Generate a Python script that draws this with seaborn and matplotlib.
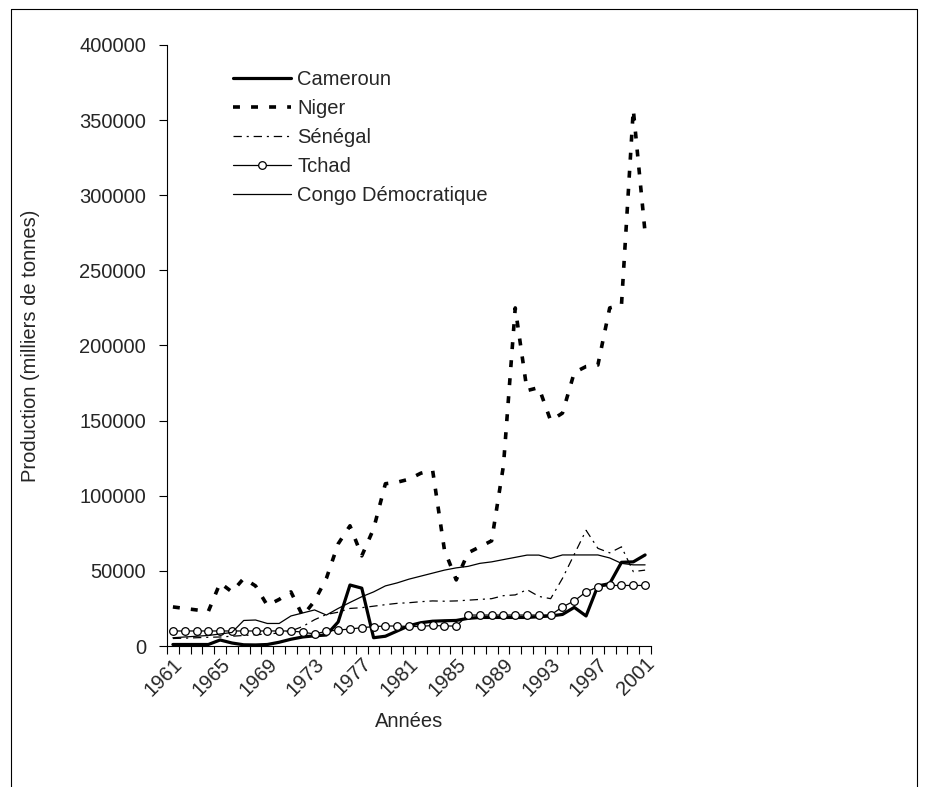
import numpy as np
import pandas as pd
import matplotlib.pyplot as plt
import seaborn as sns
from matplotlib.lines import Line2D

# années 1961 -> 2001
annees = list(range(1961, 2002))

cameroun = [1000, 1000, 1000, 1000, 4000, 2000, 800, 700, 1000, 2500,
            4500, 6000, 6800, 7300, 16000, 40600, 38500, 5500, 6500, 10000,
            13500, 15500, 16500, 16800, 17000, 18400, 19000, 19000, 19000, 19000,
            19000, 19500, 20000, 21000, 25700, 20000, 40000, 41500, 55700, 56000,
            60600]
niger = [26000, 25000, 24000, 23000, 42000, 36000, 45000, 40000, 27000, 31000,
         36000, 20000, 30000, 45000, 68000, 80000, 60000, 78000, 108000, 109000,
         111000, 115000, 117000, 64000, 44000, 62000, 66000, 70000, 120000, 225000,
         170000, 172000, 150000, 155000, 182000, 186000, 187000, 225000, 227000, 357000,
         275000]
senegal = [5000, 5200, 5500, 5800, 6000, 6500, 7000, 7500, 8000, 8600,
           10000, 13000, 17500, 21000, 22500, 25000, 25500, 26500, 27500, 28400,
           28800, 29500, 30000, 29800, 30000, 30500, 31000, 31500, 33500, 34000,
           37500, 33000, 31500, 45000, 61000, 77000, 65000, 62000, 66000, 49500,
           50500]
tchad = [10000, 10000, 10000, 10000, 10000, 10000, 10000, 10000, 10000, 10000,
         10000, 9200, 8000, 9800, 10600, 11300, 12200, 12900, 13300, 13300,
         13000, 13000, 13700, 13300, 13300, 20600, 20600, 20600, 20600, 20600,
         20600, 20600, 20600, 26000, 30000, 36000, 39300, 40300, 40300, 40300,
         40300]
congo = [5500, 6000, 6500, 7000, 8000, 9000, 17000, 17300, 15000, 15000,
         20000, 22000, 24000, 20600, 25000, 29000, 32800, 36000, 40000, 42000,
         44500, 46500, 48500, 50500, 52000, 53000, 55000, 56000, 57500, 59000,
         60500, 60500, 58300, 60600, 60600, 60600, 60600, 58600, 55000, 54000,
         54000]

labels_annees = [str(a) for a in range(1961, 2002, 4)]

sns.set_style("white")
plt.rcParams["font.family"] = ["Liberation Sans", "DejaVu Sans"]
plt.rcParams["lines.scale_dashes"] = False

df = pd.DataFrame({"Année": annees, "Cameroun": cameroun, "Niger": niger,
                   "Sénégal": senegal, "Tchad": tchad,
                   "Congo Démocratique": congo})

fig = plt.figure(figsize=(9.25, 7.87), dpi=100)
ax = fig.add_axes([167 / 925, 1 - 646 / 787, 484 / 925, 601 / 787])

sns.lineplot(data=df, x="Année", y="Cameroun", ax=ax, color="black",
             linewidth=2.3, label="Cameroun", errorbar=None)
sns.lineplot(data=df, x="Année", y="Niger", ax=ax, color="black",
             linewidth=2.6, linestyle=(0, (5, 8)), label="Niger", errorbar=None)
sns.lineplot(data=df, x="Année", y="Sénégal", ax=ax, color="black",
             linewidth=0.9, linestyle=(0, (6, 3.5, 1.5, 3.5)), label="Sénégal",
             errorbar=None)
sns.lineplot(data=df, x="Année", y="Tchad", ax=ax, color="black",
             linewidth=0.9, marker="o", markersize=5.5, markerfacecolor="white",
             markeredgecolor="black", markeredgewidth=0.9, label="Tchad",
             errorbar=None)
sns.lineplot(data=df, x="Année", y="Congo Démocratique", ax=ax, color="black",
             linewidth=0.9, label="Congo Démocratique", errorbar=None)

ax.set_xlim(1960.5, 2001.5)
ax.set_ylim(0, 400000)
ax.set_yticks(np.arange(0, 400001, 50000))
ax.set_yticklabels([str(v) for v in range(0, 400001, 50000)], fontsize=14.5)

ax.set_xticks(list(range(1961, 2002, 4)))
ax.set_xticklabels(labels_annees, rotation=45, ha="right",
                   rotation_mode="anchor", fontsize=14.5)
ax.set_xticks(np.arange(1960.5, 2002, 1), minor=True)
ax.tick_params(axis="x", which="major", length=0, pad=6)
ax.tick_params(axis="x", which="minor", length=6, width=0.8, color="black",
               direction="out", bottom=True)
ax.tick_params(axis="y", which="major", length=6, width=0.8, color="black",
               direction="out", left=True, pad=9)

sns.despine(ax=ax)
for s in ["left", "bottom"]:
    ax.spines[s].set_color("black")
    ax.spines[s].set_linewidth(0.8)

ax.set_xlabel("Années", fontsize=14.5, labelpad=9)
ax.set_ylabel("Production (milliers de tonnes)", fontsize=14.5)
ax.yaxis.set_label_coords(-0.262, 0.5)

ax.legend(loc="upper left", bbox_to_anchor=(233 / 925, 1 - 70 / 787),
          bbox_transform=fig.transFigure, frameon=False, fontsize=14.5,
          handlelength=2.9, handletextpad=0.3, labelspacing=0.5,
          borderpad=0, borderaxespad=0)

# cadre du graphique
cadre = [Line2D([11 / 925, 11 / 925], [0, 1 - 9 / 787]),
         Line2D([11 / 925, 917 / 925], [1 - 9 / 787, 1 - 9 / 787]),
         Line2D([917 / 925, 917 / 925], [1 - 9 / 787, 0])]
for l in cadre:
    l.set_transform(fig.transFigure)
    l.set_color("black")
    l.set_linewidth(0.8)
    fig.add_artist(l)

fig.savefig("out.png", dpi=100)
